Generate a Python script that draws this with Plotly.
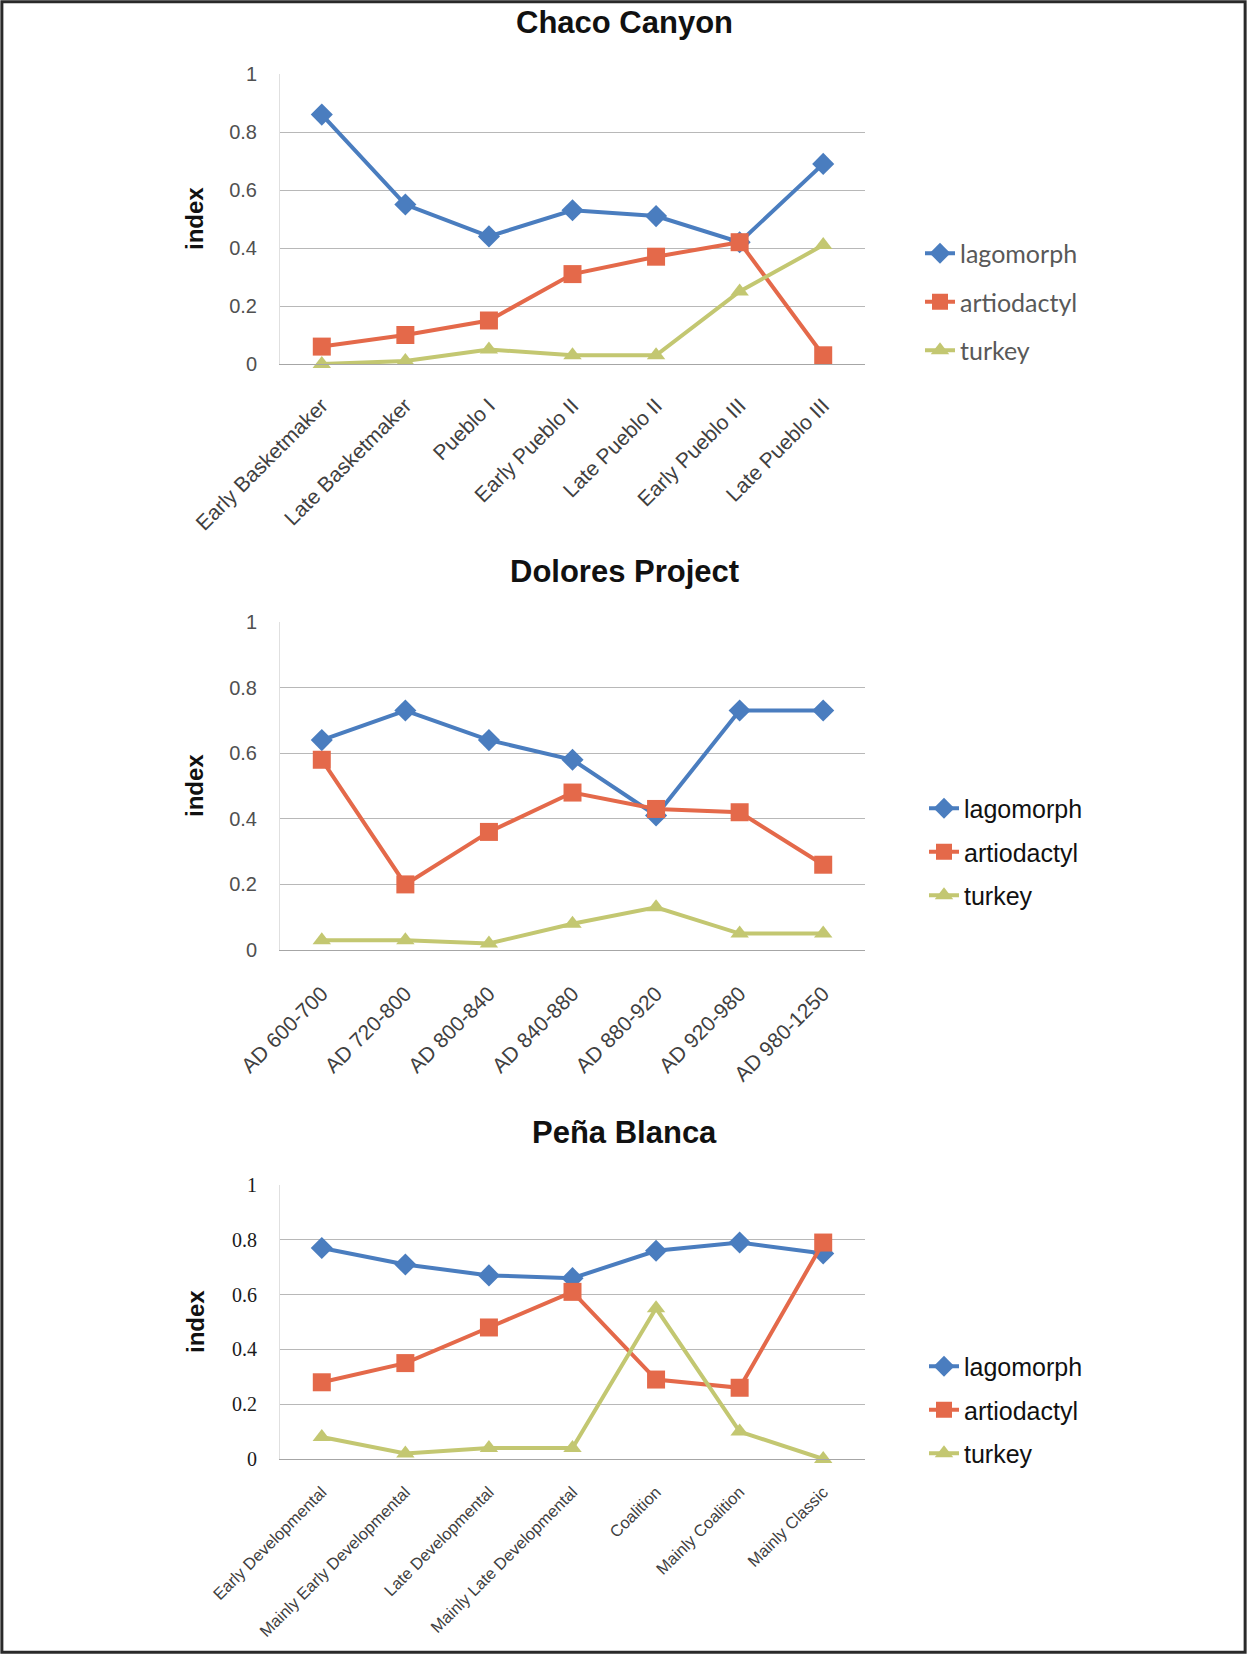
import plotly.graph_objects as go

# ---- data -------------------------------------------------------------
chaco_periods = ["Early Basketmaker", "Late Basketmaker", "Pueblo I", "Early Pueblo II",
                 "Late Pueblo II", "Early Pueblo III", "Late Pueblo III"]
chaco_lagomorph = [0.86, 0.55, 0.44, 0.53, 0.51, 0.42, 0.69]
chaco_artiodactyl = [0.06, 0.10, 0.15, 0.31, 0.37, 0.42, 0.03]
chaco_turkey = [0.00, 0.01, 0.05, 0.03, 0.03, 0.25, 0.41]

dolores_periods = ["AD 600-700", "AD 720-800", "AD 800-840", "AD 840-880",
                   "AD 880-920", "AD 920-980", "AD 980-1250"]
dolores_lagomorph = [0.64, 0.73, 0.64, 0.58, 0.41, 0.73, 0.73]
dolores_artiodactyl = [0.58, 0.20, 0.36, 0.48, 0.43, 0.42, 0.26]
dolores_turkey = [0.03, 0.03, 0.02, 0.08, 0.13, 0.05, 0.05]

pena_periods = ["Early Developmental", "Mainly Early Developmental", "Late Developmental",
                "Mainly Late Developmental", "Coalition", "Mainly Coalition", "Mainly Classic"]
pena_lagomorph = [0.77, 0.71, 0.67, 0.66, 0.76, 0.79, 0.75]
pena_artiodactyl = [0.28, 0.35, 0.48, 0.61, 0.29, 0.26, 0.79]
pena_turkey = [0.08, 0.02, 0.04, 0.04, 0.55, 0.10, 0.00]

y_ticks = [0, 0.2, 0.4, 0.6, 0.8, 1]
y_tick_text = ["0", "0.2", "0.4", "0.6", "0.8", "1"]

# ---- page geometry (pixels) -------------------------------------------
W, H = 1247, 1654
PLOT_L, PLOT_R = 280, 865


def py(px):
    """pixel row from the top -> paper fraction"""
    return 1 - px / H


def pxx(px):
    return px / W


BLUE = "#4A7DBF"
RED = "#E4694A"
GREEN = "#C3C771"

NARROW = "Liberation Sans Narrow, Liberation Sans, Arial"

panels = [
    dict(title="Chaco Canyon", cats=chaco_periods, lag=chaco_lagomorph, art=chaco_artiodactyl,
         tur=chaco_turkey, top=74, bottom=364, title_y=23, legend_y=302, legend_x=920,
         gap=13, xstand=20,
         xfont=dict(family="Liberation Sans", size=21, color="#404040"),
         yfont=dict(family=NARROW, size=20, color="#505050"),
         lfont=dict(family="Lato", size=25, color="#595959")),
    dict(title="Dolores Project", cats=dolores_periods, lag=dolores_lagomorph, art=dolores_artiodactyl,
         tur=dolores_turkey, top=622, bottom=950, title_y=571, legend_y=852, legend_x=924,
         gap=8, xstand=22,
         xfont=dict(family="Liberation Sans", size=21, color="#404040"),
         yfont=dict(family=NARROW, size=20, color="#505050"),
         lfont=dict(family="Liberation Sans", size=25, color="#111111")),
    dict(title="Peña Blanca", cats=pena_periods, lag=pena_lagomorph, art=pena_artiodactyl,
         tur=pena_turkey, top=1185, bottom=1459, title_y=1132, legend_y=1410, legend_x=924,
         gap=8, xstand=16,
         xfont=dict(family="Liberation Sans", size=16.5, color="#404040"),
         yfont=dict(family="Liberation Serif", size=20, color="#1a1a1a"),
         lfont=dict(family="Liberation Sans", size=25, color="#111111")),
]

fig = go.Figure()
layout = dict(
    width=W, height=H, margin=dict(l=0, r=0, t=0, b=0, autoexpand=False),
    paper_bgcolor="white", plot_bgcolor="white", showlegend=True,
)
annotations = []

series_style = [
    ("lagomorph", "lag", BLUE, "diamond", 17),
    ("artiodactyl", "art", RED, "square", 18),
    ("turkey", "tur", GREEN, "triangle-up", 16),
]

for i, p in enumerate(panels, start=1):
    sfx = "" if i == 1 else str(i)
    leg = "legend" if i == 1 else f"legend{i}"
    for name, key, color, symbol, size in series_style:
        fig.add_trace(go.Scatter(
            x=p["cats"], y=p[key], name=name, mode="lines+markers",
            line=dict(color=color, width=4),
            marker=dict(symbol=symbol, size=size, color=color),
            xaxis=f"x{sfx}", yaxis=f"y{sfx}", legend=leg,
            legendgroup=f"{key}{i}", cliponaxis=False,
        ))

    layout[f"xaxis{sfx}"] = dict(
        domain=[pxx(PLOT_L), pxx(PLOT_R)], anchor=f"y{sfx}", type="category",
        range=[-0.5, 6.5], tickangle=-45, tickfont=p["xfont"], automargin=False,
        showgrid=False, showline=True, linecolor="#a6a6a6", linewidth=1,
        ticks="", ticklabelstandoff=p["xstand"], fixedrange=True,
    )
    layout[f"yaxis{sfx}"] = dict(
        domain=[py(p["bottom"]), py(p["top"])], anchor=f"x{sfx}", range=[0, 1],
        tickvals=y_ticks, ticktext=y_tick_text, tickfont=p["yfont"], automargin=False,
        showgrid=True, gridcolor="#b8b8b8", gridwidth=1, zeroline=False,
        showline=True, linecolor="#e0e0e0", ticks="", ticklabelstandoff=18,
    )
    layout[leg] = dict(
        x=pxx(p["legend_x"]), xanchor="left", y=py(p["legend_y"]), yanchor="middle",
        font=p["lfont"], bgcolor="rgba(0,0,0,0)", traceorder="grouped",
        tracegroupgap=p["gap"],
    )
    annotations.append(dict(
        text=p["title"], x=pxx(624), y=py(p["title_y"]), xref="paper", yref="paper",
        showarrow=False, xanchor="center", yanchor="middle",
        font=dict(family="Liberation Sans", size=31, color="#111111", weight="bold"),
    ))
    annotations.append(dict(
        text="index", x=pxx(195), y=py((p["top"] + p["bottom"]) / 2), xref="paper", yref="paper",
        showarrow=False, xanchor="center", yanchor="middle", textangle=-90,
        font=dict(family="Liberation Sans", size=24, color="#111111", weight="bold"),
    ))

layout["annotations"] = annotations
layout["shapes"] = [dict(type="rect", xref="paper", yref="paper", x0=0.0015, x1=0.9985,
                         y0=0.001, y1=0.999, line=dict(color="#2a2a2a", width=3))]
fig.update_layout(**layout)

fig.write_html("out.html")
